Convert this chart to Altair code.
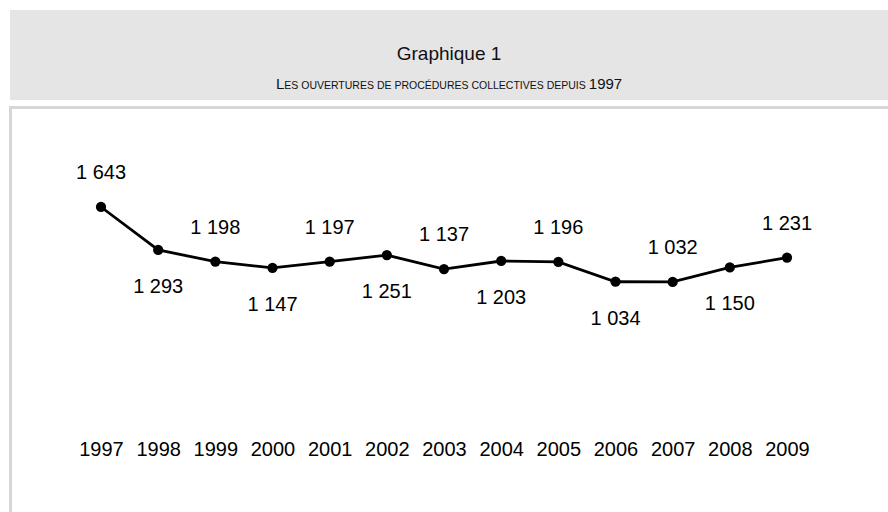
import altair as alt
import pandas as pd

# Ouvertures de procédures collectives par année
years = [1997, 1998, 1999, 2000, 2001, 2002, 2003, 2004, 2005, 2006, 2007, 2008, 2009]
openings = [1643, 1293, 1198, 1147, 1197, 1251, 1137, 1203, 1196, 1034, 1032, 1150, 1231]

title_text = "Graphique 1"
subtitle_first = "L"
subtitle_middle = "ES OUVERTURES DE PROCÉDURES COLLECTIVES DEPUIS"
subtitle_year = "1997"

df = pd.DataFrame({"annee": years, "ouvertures": openings})

FONT = "Liberation Sans"
x_scale = alt.Scale(domain=[1997, 2009], range=[101, 787])
y_scale = alt.Scale(domain=[1000, 1700], range=[285.9, 200.0])

base = alt.Chart(df).encode(
    x=alt.X(
        "annee:Q",
        scale=x_scale,
        axis=alt.Axis(
            values=years,
            format="d",
            title=None,
            domain=False,
            ticks=False,
            grid=False,
            labelFont=FONT,
            labelFontSize=20,
            labelColor="#000000",
            labelPadding=2,
            labelFlush=False,
            labelOverlap=False,
            offset=-74.5,
            zindex=1,
        ),
    ),
    y=alt.Y("ouvertures:Q", scale=y_scale, axis=None),
)

line = base.mark_line(color="#000000", strokeWidth=2.8)
points = base.mark_circle(size=105, color="#000000", opacity=1)

labelled = base.transform_calculate(
    label="replace(format(datum.ouvertures, ','), ',', ' ')",
    rang="datum.annee - 1997",
)
labels_above = labelled.transform_filter("datum.rang % 2 == 0").mark_text(
    dy=-34, fontSize=20, font=FONT, color="#000000", baseline="middle"
).encode(text="label:N")
labels_below = labelled.transform_filter("datum.rang % 2 == 1").mark_text(
    dy=37, fontSize=20, font=FONT, color="#000000", baseline="middle"
).encode(text="label:N")

one = alt.Data(values=[{}])

# Bandeau gris du titre et cadre du graphique
band = alt.Chart(one).mark_rect(color="#e5e5e5").encode(
    x=alt.value(10), x2=alt.value(888), y=alt.value(10), y2=alt.value(100)
)
frame = alt.Chart(one).mark_rect(fill="#ffffff", stroke="#d6d6d6", strokeWidth=3).encode(
    x=alt.value(10.5), x2=alt.value(960), y=alt.value(107.5), y2=alt.value(620)
)

head = alt.Chart(one).mark_text(
    text=title_text, font=FONT, fontSize=19, color="#111111", align="center", baseline="alphabetic"
).encode(x=alt.value(449), y=alt.value(60))

# Sous-titre en petites capitales : initiale et année en grand corps
sub_first = alt.Chart(one).mark_text(
    text=subtitle_first, font=FONT, fontSize=15, color="#111111", align="left", baseline="alphabetic"
).encode(x=alt.value(276), y=alt.value(89))
sub_middle = alt.Chart(one).mark_text(
    text=subtitle_middle, font=FONT, fontSize=10.5, color="#111111", align="left", baseline="alphabetic"
).encode(x=alt.value(284.3), y=alt.value(89))
sub_year = alt.Chart(one).mark_text(
    text=subtitle_year, font=FONT, fontSize=15, color="#111111", align="left", baseline="alphabetic"
).encode(x=alt.value(588.8), y=alt.value(89))

chart = alt.layer(
    band, frame, line, points, labels_above, labels_below,
    head, sub_first, sub_middle, sub_year,
).properties(
    width=888, height=512, padding=0, autosize="none", background="#ffffff"
).configure_view(stroke=None)

chart.save("out.html", embed_options={"renderer": "svg", "actions": False})
